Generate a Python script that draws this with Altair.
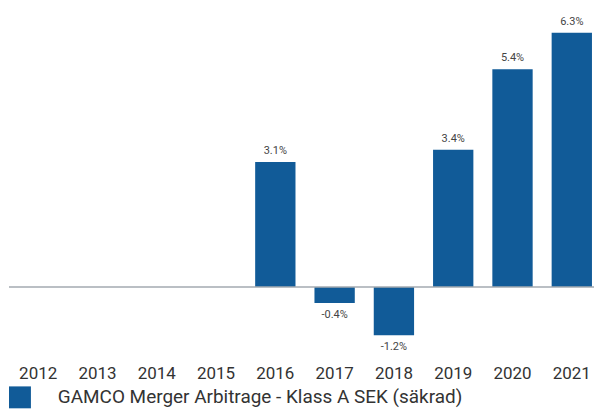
import altair as alt
import pandas as pd

years = ["2012", "2013", "2014", "2015", "2016", "2017", "2018", "2019", "2020", "2021"]
values = [None, None, None, None, 3.1, -0.4, -1.2, 3.4, 5.4, 6.3]
series_name = "GAMCO Merger Arbitrage - Klass A SEK (säkrad)"

rows = []
for y, v in zip(years, values):
    if v is not None:
        rows.append({"year": y, "value": v, "label": f"{v:.1f}%", "series": series_name})
df = pd.DataFrame(rows)

BAR = "#115B98"
FONT = "Roboto"
W = 587

x_scale = alt.Scale(domain=years, paddingInner=0.32, paddingOuter=0.093, align=0.815)
x_enc = alt.X("year:O", scale=x_scale,
              axis=alt.Axis(title=None, domain=False, ticks=False, tickSize=0, labelAngle=0,
                            labelPadding=6, labelFontSize=17, labelColor="#333333", labelFont=FONT))
y_scale = alt.Scale(domain=[-1.8, 6.9], nice=False, zero=False)

base = alt.Chart(df)

bars = base.mark_bar(color=BAR).encode(
    x=x_enc,
    y=alt.Y("value:Q", scale=y_scale, axis=None),
    color=alt.Color("series:N", scale=alt.Scale(range=[BAR]),
                    legend=alt.Legend(title=None, orient="none", legendX=0, legendY=379,
                                      symbolType="square", symbolSize=484, symbolStrokeWidth=0,
                                      symbolOpacity=1, labelFontSize=19, labelFont=FONT,
                                      labelColor="#333333", labelLimit=0, labelOffset=27,
                                      padding=0)),
)

zero = alt.Chart(pd.DataFrame({"z": [0]})).mark_rule(color="#a3aab1", strokeWidth=1.5).encode(
    y=alt.Y("z:Q", scale=y_scale, axis=None),
    x=alt.value(0), x2=alt.value(W),
)

pos = base.transform_filter("datum.value >= 0").mark_text(
    baseline="bottom", dy=-6, fontSize=11, font=FONT, color="#444444"
).encode(x=alt.X("year:O", scale=x_scale), y=alt.Y("value:Q", scale=y_scale), text="label:N")

neg = base.transform_filter("datum.value < 0").mark_text(
    baseline="top", dy=6, fontSize=11, font=FONT, color="#444444"
).encode(x=alt.X("year:O", scale=x_scale), y=alt.Y("value:Q", scale=y_scale), text="label:N")

chart = alt.layer(bars, zero, pos, neg).properties(
    width=W, height=352, padding=0
).configure_view(stroke=None)

chart.save("out.html", embed_options={"renderer": "svg", "actions": False})
